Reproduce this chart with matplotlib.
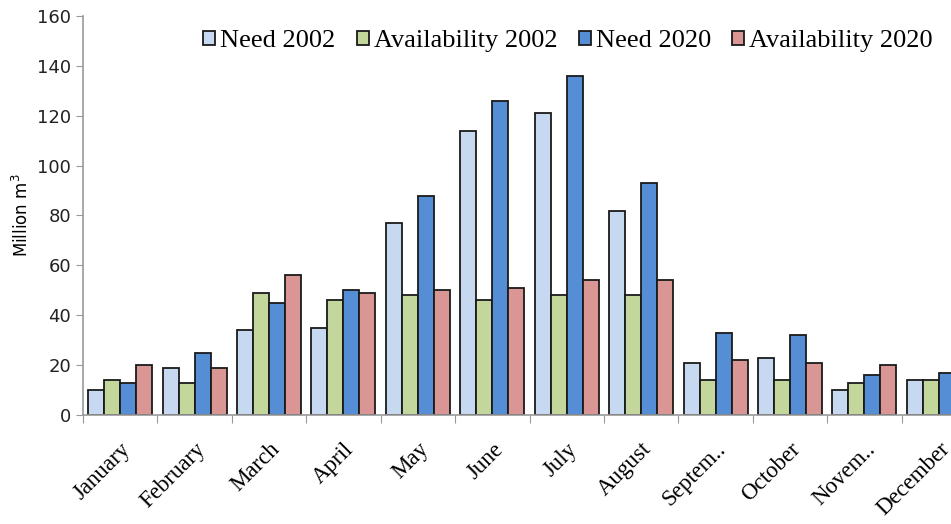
import numpy as np
import matplotlib
matplotlib.use('Agg')
from matplotlib import pyplot as plt

# monthly water need / availability, million m3
months = ['January', 'February', 'March', 'April', 'May', 'June', 'July',
          'August', 'Septem..', 'October', 'Novem..', 'December']
need_2002 = [10, 19, 34, 35, 77, 114, 121, 82, 21, 23, 10, 14]
avail_2002 = [14, 13, 49, 46, 48, 46, 48, 48, 14, 14, 13, 14]
need_2020 = [13, 25, 45, 50, 88, 126, 136, 93, 33, 32, 16, 17]
avail_2020 = [20, 19, 56, 49, 50, 51, 54, 54, 22, 21, 20, 20]

series = [('Need 2002', need_2002, '#c6d9f1'),
          ('Availability 2002', avail_2002, '#c3d69b'),
          ('Need 2020', need_2020, '#558ed5'),
          ('Availability 2020', avail_2020, '#d99694')]

fig = plt.figure(figsize=(9.51, 5.24), dpi=100)
# axes runs past the right edge, December gets clipped
ax = fig.add_axes([0.0873, 0.208, 0.939, 0.7615])

x = np.arange(len(months))
w = 0.215
for i, (name, vals, col) in enumerate(series):
    ax.bar(x + (i - 1.5) * w, vals, w, color=col, edgecolor='#1a1a1a',
           linewidth=1.3, label=name)

ax.set_xlim(-0.5, len(months) - 0.5)
ax.set_ylim(0, 160)
ax.set_yticks(range(0, 161, 20))
ax.tick_params(axis='y', labelsize=13, length=5, color='#999999')
for lab in ax.get_yticklabels():
    lab.set_color('#222222')

# ticks sit on the group boundaries, labels under the group centres
ax.set_xticks(np.arange(-0.5, len(months), 1.0))
ax.set_xticklabels([])
ax.set_xticks(x, minor=True)
ax.set_xticklabels(months, minor=True, rotation=45, ha='right',
                   rotation_mode='anchor', family='Liberation Serif',
                   fontsize=16.5)
ax.tick_params(axis='x', which='major', length=6, color='#999999')
ax.tick_params(axis='x', which='minor', length=0, pad=17)

for s in ['top', 'right']:
    ax.spines[s].set_visible(False)
for s in ['left', 'bottom']:
    ax.spines[s].set_color('#999999')
    ax.spines[s].set_linewidth(1.2)

ax.set_ylabel('Million m$^3$', fontsize=12, labelpad=4)

leg = ax.legend(loc='upper right', bbox_to_anchor=(0.968, 1.0), ncol=4,
                frameon=False, prop={'family': 'Liberation Serif', 'size': 19},
                handlelength=0.45, handleheight=0.45, handletextpad=0.2,
                columnspacing=0.8, borderaxespad=0.15)

fig.savefig('out.png', dpi=100)
